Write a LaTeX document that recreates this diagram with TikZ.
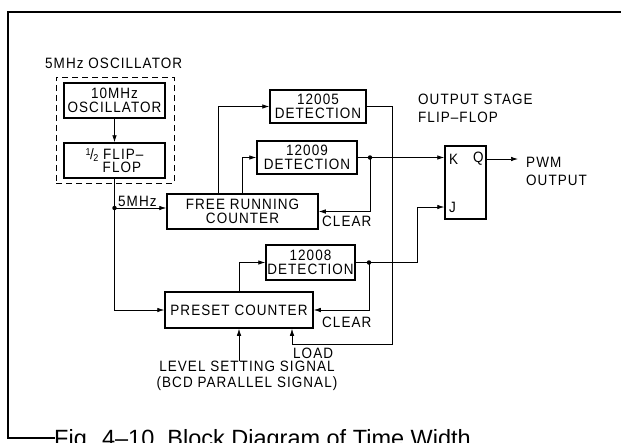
\documentclass[tikz,border=0pt]{standalone}
\usepackage{fontspec}
\setmainfont{Liberation Sans}
\newfontfamily\lblfont{Liberation Sans}[LetterSpace=7, FakeStretch=0.9]
\usetikzlibrary{arrows.meta}
\begin{document}
\begin{tikzpicture}[x=1pt,y=-1pt,
  font=\lblfont\fontsize{15}{13.5}\selectfont,
  box/.style={draw, line width=1.5pt, inner sep=0pt, align=center},
  conn/.style={line width=0.7pt},
  arr/.style={conn, -{Latex[length=7pt,width=4.5pt]}},
  dot/.style={circle, fill, inner sep=0pt, minimum size=4.5pt},
  lbl/.style={inner sep=0pt, align=left}]
\useasboundingbox (0,0) rectangle (621,442);
% frame
\draw[line width=1.3pt] (621,12) -- (8,12) -- (8,438) -- (55,438);
% caption (cut off at the bottom edge, as in the reference)
\begin{scope}
\clip (0,0) rectangle (621,442);
\node[anchor=base west, inner sep=0pt, font=\normalfont\fontsize{23.5}{24}\selectfont] (cap) at (54,446) {Fig. 4–10\ \ Block Diagram of Time Width};
\end{scope}
% oscillator group
\node[lbl, anchor=west] (oscl) at (45,63) {5MHz OSCILLATOR};
\node[draw, dashed, dash pattern=on 6pt off 4pt, line width=0.6pt, minimum width=118pt, minimum height=106pt, inner sep=0pt] (dbox) at (115,130) {};
\node[box, minimum width=101pt, minimum height=35pt] (osc) at (114.5,100.5) {10MHz\\OSCILLATOR};
\node[box, minimum width=101pt, minimum height=35pt, align=left] (ff) at (114.5,160.5)
  {{\fontsize{10}{10}\selectfont\raisebox{4pt}{1}}\kern-0.5pt/\kern-0.5pt{\fontsize{10}{10}\selectfont\raisebox{-2pt}{2}}\ FLIP–\\\hphantom{\fontsize{10}{10}\selectfont 1/2\ }FLOP};
% blocks
\node[box, minimum width=151pt, minimum height=35pt] (frc) at (242.5,211.5) {FREE RUNNING\\COUNTER};
\node[box, minimum width=96pt, minimum height=33pt] (d05) at (318,106.5) {12005\\DETECTION};
\node[box, minimum width=100pt, minimum height=33pt] (d09) at (307,157.5) {12009\\DETECTION};
\node[box, minimum width=89pt, minimum height=35pt] (d08) at (310.5,262.5) {12008\\DETECTION};
\node[box, minimum width=148pt, minimum height=36pt] (pc) at (239,310) {PRESET COUNTER};
\node[box, minimum width=41pt, minimum height=73pt] (ffo) at (465.5,182.5) {};
\node[lbl, anchor=west] (kl) at (449,159) {K};
\node[lbl, anchor=west] (ql) at (473,159) {Q};
\node[lbl, anchor=west] (jl) at (449,207) {J};
% labels
\node[lbl, anchor=west] (ost) at (418,99) {OUTPUT STAGE};
\node[lbl, anchor=west] (ostf) at (418,117) {FLIP–FLOP};
\node[lbl, anchor=west] (pwm) at (526,162) {PWM};
\node[lbl, anchor=west] (pwmo) at (526,180) {OUTPUT};
\node[lbl, anchor=west] (mhz) at (118,201) {5MHz};
\node[lbl, anchor=west] (clr1) at (322,221) {CLEAR};
\node[lbl, anchor=west] (clr2) at (322,322) {CLEAR};
\node[lbl, anchor=west] (load) at (293,353) {LOAD};
\node[lbl, align=center, font=\lblfont\fontsize{15}{16}\selectfont] (lvl) at (247,376) {LEVEL SETTING SIGNAL\\(BCD PARALLEL SIGNAL)};
% coordinates
\coordinate (j1) at (114.5,208);
\coordinate (k1) at (370,157.5);
\coordinate (j2) at (369,262.5);
\coordinate (ld) at (392,344);
\coordinate (jc) at (417,207);
\coordinate (qo) at (486,159);
% connectors
\draw[arr] (osc) -- (ff);
\draw[conn] (ff.south) -- (j1);
\draw[arr] (j1) -- (j1 -| frc.west);
\draw[arr] (j1) |- (pc.west);
\node[dot] at (j1) {};
\draw[arr] ([xshift=-24.5pt]frc.north) |- (d05.west);
\draw[arr] (frc.north) |- (d09.west);
\draw[arr] (d09.east) -- (d09.east -| ffo.west);
\node[dot] at (k1) {};
\draw[arr] (k1) |- (frc.east);
\draw[arr] (d05.east) -| (ld) -| ([xshift=53pt]pc.south);
\draw[arr] (pc.north) |- (d08.west);
\draw[arr] (d08.east) -| (jc) -- (jc -| ffo.west);
\node[dot] at (j2) {};
\draw[arr] (j2) |- (pc.east);
\draw[arr] (lvl.north -| pc.south) -- (pc.south);
\draw[arr] (qo) -- ([xshift=-8pt]qo -| pwm.west);
\end{tikzpicture}
\end{document}
